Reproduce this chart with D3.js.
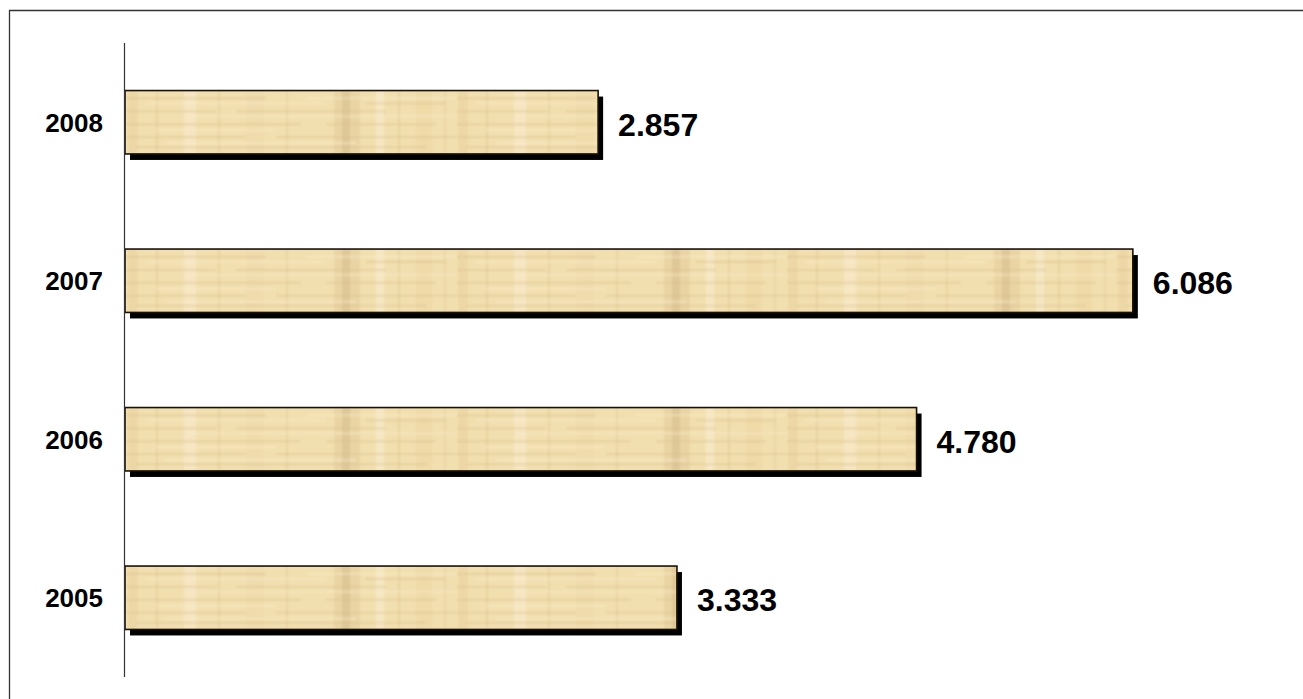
<!DOCTYPE html>
<html>
<head>
<meta charset="utf-8">
<script src="https://cdn.jsdelivr.net/npm/d3@7"></script>
<style>
  html, body { margin: 0; padding: 0; background: #fff; }
  svg { display: block; }
</style>
</head>
<body>
<svg id="chart" width="1303" height="699"></svg>
<script>
// ---- data ----
const years = ["2008", "2007", "2006", "2005"];
const values = [2.857, 6.086, 4.780, 3.333];
const valueLabels = ["2.857", "6.086", "4.780", "3.333"];
const xDomain = [0, 7];

(function () {
// ---- layout ----
const W = 1303, H = 699;
const axisX = 124.5;
const plotTop = 43, plotBottom = 677;
const svg = d3.select("#chart");

const y = d3.scaleBand().domain(years).range([plotTop, plotBottom]).paddingInner(0.6).paddingOuter(0.3);
const x = d3.scaleLinear().domain(xDomain).range([125, 125 + 165.6 * 7]);

// frame
svg.append("path")
  .attr("d", `M9.5,${H + 5} L9.5,10.5 L${W + 5},10.5`)
  .attr("fill", "none").attr("stroke", "#333").attr("stroke-width", 1.3);

// papyrus texture pattern (styling only)
const defs = svg.append("defs");
defs.append("filter").attr("id", "soft").attr("x", 0).attr("y", 0).attr("width", 1).attr("height", 1)
  .append("feGaussianBlur").attr("stdDeviation", 0.9);

// horizontal fibre segments: [y, x0, x1, dark?]
const hSegs = [
  [7, 0, 140, 1], [7, 180, 330, 0], [12, 20, 200, 0], [12, 240, 320, 1],
  [20, 0, 90, 1], [20, 110, 260, 1], [25, 60, 330, 0], [33, 0, 175, 1],
  [33, 200, 310, 1], [39, 30, 150, 0], [46, 0, 120, 1], [46, 150, 330, 1],
  [52, 40, 230, 0], [56, 10, 300, 1]
];
const vBands = [
  {x: 2, w: 10, c: "#E8CF9C", o: 0.45}, {x: 30, w: 2, c: "#D9BE8C", o: 0.4},
  {x: 58, w: 12, c: "#F8EACB", o: 0.6}, {x: 92, w: 2, c: "#D8BC88", o: 0.35},
  {x: 120, w: 18, c: "#EED8A8", o: 0.5}, {x: 160, w: 2, c: "#D9BE8B", o: 0.35},
  {x: 208, w: 26, c: "#E0C796", o: 0.45}, {x: 216, w: 8, c: "#CFB382", o: 0.35},
  {x: 250, w: 8, c: "#F9EDD0", o: 0.6}, {x: 272, w: 2, c: "#D8BC88", o: 0.35},
  {x: 290, w: 16, c: "#EAD29F", o: 0.45}, {x: 318, w: 2, c: "#DCC28F", o: 0.35}
];
years.forEach((yr, i) => {
  const p = defs.append("pattern")
    .attr("id", "pap" + i)
    .attr("patternUnits", "userSpaceOnUse")
    .attr("x", 126).attr("y", y(yr))
    .attr("width", 330).attr("height", y.bandwidth());
  p.append("rect").attr("width", 330).attr("height", y.bandwidth()).attr("fill", "#F2DFAF");
  const t = p.append("g").attr("filter", "url(#soft)");
  vBands.forEach(b => t.append("rect").attr("x", b.x).attr("y", 0).attr("width", b.w)
    .attr("height", y.bandwidth()).attr("fill", b.c).attr("opacity", b.o));
  hSegs.forEach(s => t.append("rect").attr("x", s[1]).attr("y", s[0])
    .attr("width", s[2] - s[1]).attr("height", 1.5)
    .attr("fill", s[3] ? "#D9C090" : "#FAEDCF").attr("opacity", 0.6));
});

const g = svg.append("g");

// shadows
g.selectAll("rect.shadow").data(years).join("rect")
  .attr("class", "shadow")
  .attr("x", x(0) + 5)
  .attr("y", d => y(d) + 6)
  .attr("width", (d, i) => x(values[i]) - x(0))
  .attr("height", y.bandwidth())
  .attr("fill", "#000");

// bars
g.selectAll("rect.bar").data(years).join("rect")
  .attr("class", "bar")
  .attr("x", x(0))
  .attr("y", d => y(d))
  .attr("width", (d, i) => x(values[i]) - x(0))
  .attr("height", y.bandwidth())
  .attr("fill", (d, i) => `url(#pap${i})`)
  .attr("stroke", "#1a1208").attr("stroke-width", 1.6);

// axis line
svg.append("line")
  .attr("x1", axisX).attr("x2", axisX)
  .attr("y1", plotTop).attr("y2", plotBottom)
  .attr("stroke", "#333").attr("stroke-width", 1.2);

// category labels
svg.selectAll("text.cat").data(years).join("text")
  .attr("class", "cat")
  .attr("x", 103)
  .attr("y", d => y(d) + y.bandwidth() / 2)
  .attr("dy", "0.36em")
  .attr("text-anchor", "end")
  .attr("font-family", "Liberation Sans, Arial, sans-serif")
  .attr("font-weight", "bold")
  .attr("font-size", 26)
  .attr("fill", "#000")
  .text(d => d);

// value labels
svg.selectAll("text.val").data(years).join("text")
  .attr("class", "val")
  .attr("x", (d, i) => x(values[i]) + 20)
  .attr("y", d => y(d) + y.bandwidth() / 2 + 2)
  .attr("dy", "0.36em")
  .attr("font-family", "Liberation Sans, Arial, sans-serif")
  .attr("font-weight", "bold")
  .attr("font-size", 32)
  .attr("fill", "#000")
  .text((d, i) => valueLabels[i]);
})();
</script>
</body>
</html>
